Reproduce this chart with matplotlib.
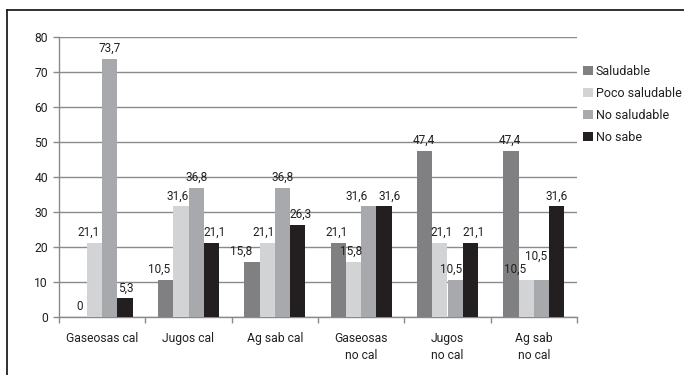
import matplotlib
matplotlib.use("Agg")
import matplotlib.pyplot as plt
from matplotlib.lines import Line2D
from matplotlib.patches import Patch
import numpy as np

# ---- data ----
categories = ["Gaseosas cal", "Jugos cal", "Ag sab cal",
              "Gaseosas\nno cal", "Jugos\nno cal", "Ag sab\nno cal"]
series_names = ["Saludable", "Poco saludable", "No saludable", "No sabe"]
saludable = [0, 10.5, 15.8, 21.1, 47.4, 47.4]
poco_saludable = [21.1, 31.6, 21.1, 15.8, 21.1, 10.5]
no_saludable = [73.7, 36.8, 36.8, 31.6, 10.5, 10.5]
no_sabe = [5.3, 21.1, 26.3, 31.6, 21.1, 31.6]
y_ticks = [0, 10, 20, 30, 40, 50, 60, 70, 80]

series = [saludable, poco_saludable, no_saludable, no_sabe]
colors = ["#808083", "#d2d3d5", "#a8a9ac", "#231f20"]

# nudges (pixels) for value labels that would otherwise collide
label_dx = [[0, -6, 0, 1],
            [-7, -3, 0, 3],
            [-11, -4, 0, 3],
            [-2, -2, -12, 6],
            [-1, 2, -4, 3],
            [-1, -11, -5, 0]]
label_dy = [[0, 0, 0, 0],
            [0, 0, 0, 0],
            [0, 0, 0, 0],
            [0, 0, 0, 0],
            [0, 0, 0, 0],
            [0, 0, 13, 0]]

plt.rcParams["font.family"] = ["Roboto", "DejaVu Sans"]

fig = plt.figure(figsize=(6.84, 3.75), dpi=100)
ax = fig.add_axes([59 / 684, 1 - 317 / 375, (577 - 59) / 684, (317 - 37) / 375])

bar_w = 0.177
x = np.arange(len(categories)) + 0.5
text_color = "#231f20"
for j, (vals, col) in enumerate(zip(series, colors)):
    pos = x + (j - 1.5) * bar_w
    ax.bar(pos, vals, width=bar_w, color=col, zorder=3, label=series_names[j])
    for i, v in enumerate(vals):
        ax.annotate(f"{v:g}".replace(".", ","), xy=(pos[i], v),
                    xytext=(label_dx[i][j], 7 + label_dy[i][j]),
                    textcoords="offset pixels", ha="center", va="baseline",
                    fontsize=8.5, color=text_color, zorder=4)

ax.set_xlim(0, len(categories))
ax.set_ylim(0, 80)
ax.set_yticks(y_ticks)
ax.yaxis.grid(True, color="#8a8a8a", linewidth=1.0, zorder=0)
ax.set_axisbelow(True)

ax.set_xticks(np.arange(len(categories) + 1))
ax.set_xticklabels([])
ax.set_xticks(x, minor=True)
ax.set_xticklabels(categories, minor=True, fontsize=8.7, color=text_color,
                   linespacing=1.4, va="top")
ax.tick_params(axis="x", which="minor", length=0, pad=11)
ax.tick_params(axis="x", which="major", length=4, color="#8a8a8a", width=1)
ax.tick_params(axis="y", length=4, color="#8a8a8a", width=1, labelsize=8.7,
               labelcolor=text_color, pad=4)

for side in ["top", "right"]:
    ax.spines[side].set_visible(False)
for side in ["left", "bottom"]:
    ax.spines[side].set_color("#8a8a8a")
    ax.spines[side].set_linewidth(1.0)

handles = [Patch(facecolor=c, edgecolor="none") for c in colors]
fig.legend(handles, series_names, loc="upper left",
           bbox_to_anchor=(583 / 684, 1 - 65 / 375), frameon=False,
           fontsize=9.0, handlelength=0.8, handleheight=0.8,
           handletextpad=0.2, labelspacing=0.72, borderpad=0,
           borderaxespad=0, labelcolor=text_color)

# outer frame (top and left edges)
fig.add_artist(Line2D([7 / 684, 1.0], [1 - 10 / 375] * 2, transform=fig.transFigure,
                      color=text_color, linewidth=1.3))
fig.add_artist(Line2D([7 / 684] * 2, [0, 1 - 10 / 375], transform=fig.transFigure,
                      color=text_color, linewidth=1.3))

fig.savefig("out.png", dpi=100)
